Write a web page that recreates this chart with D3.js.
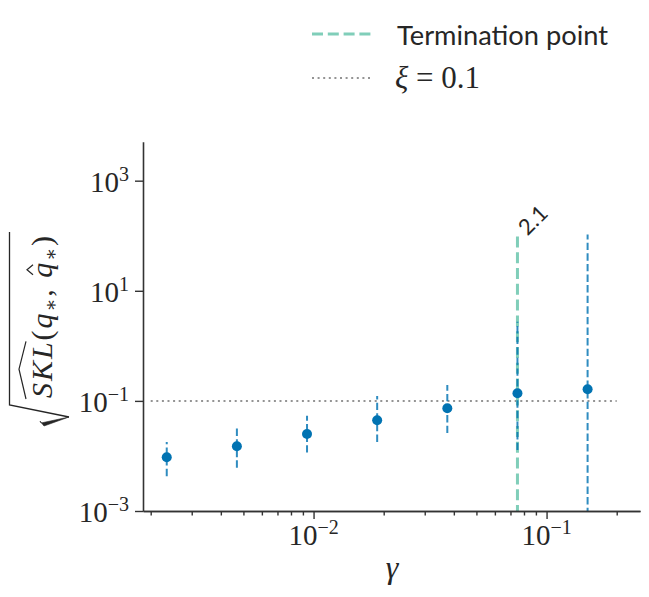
<!DOCTYPE html>
<html><head><meta charset="utf-8">
<script src="https://cdn.jsdelivr.net/npm/d3@7"></script>
<style>body{margin:0;background:#fff}svg{display:block}</style>
</head><body>
<svg id="c" width="649" height="597"></svg>
<script>
// ---- data ----
const gammas   = [0.00234375, 0.0046875, 0.009375, 0.01875, 0.0375, 0.075, 0.15];
const sklVals  = [0.0095, 0.015, 0.025, 0.0446, 0.0736, 0.138, 0.163];
const errLow   = [0.0043, 0.0061, 0.0115, 0.018, 0.026, 0.0128, 0.00001];
const errHigh  = [0.018, 0.0337, 0.054, 0.123, 0.195, 2.75, 105];
const terminationGamma = 0.075;
const terminationTop = 110;
const terminationLabel = "2.1";
const xiValue = 0.1;
const xiSpan = [0.002, 0.2];
const xMajorTicks = [0.01, 0.1];
const xMajorLabels = [["10","−2"],["10","−1"]];
const xMinorTicks = [0.002,0.003,0.004,0.005,0.006,0.007,0.008,0.009,
                     0.02,0.03,0.04,0.05,0.06,0.07,0.08,0.09,0.2];
const yTicks = [0.001, 0.1, 10, 1000];
const yTickLabels = [["10","−3"],["10","−1"],["10","1"],["10","3"]];
const xDomain = [Math.pow(10,-2.732), Math.pow(10,-0.599)];
const yDomain = [0.001, Math.pow(10,3.708)];

// ---- layout ----
const L = 143, R = 640, T = 141.7, B = 511;
const svg = d3.select("#c");
const x = d3.scaleLog().domain(xDomain).range([L, R]);
const y = d3.scaleLog().domain(yDomain).range([B, T]);
const blue = "#0173b2", green = "#80ceb9", grey = "#949494", ink = "#262626", spine = "#333333";
const serif = "'Liberation Serif','DejaVu Serif',serif";
const sans = "Lato,'Open Sans',sans-serif";

svg.append("clipPath").attr("id","clip").append("rect")
  .attr("x", L).attr("y", T).attr("width", R-L).attr("height", B-T);
const plot = svg.append("g").attr("clip-path","url(#clip)");

// xi line
plot.append("line")
  .attr("x1", x(xiSpan[0])).attr("x2", x(xiSpan[1]))
  .attr("y1", y(xiValue)).attr("y2", y(xiValue))
  .attr("stroke", grey).attr("stroke-width", 2).attr("stroke-dasharray","2,3.6");

// termination line
plot.append("line")
  .attr("x1", x(terminationGamma)).attr("x2", x(terminationGamma))
  .attr("y1", B + 5).attr("y2", y(terminationTop))
  .attr("stroke", green).attr("stroke-width", 3).attr("stroke-dasharray","11,4.8");

// error bars
plot.selectAll(".err").data(gammas).enter().append("line")
  .attr("x1", d => x(d)).attr("x2", d => x(d))
  .attr("y1", (d,i) => y(errLow[i])).attr("y2", (d,i) => y(errHigh[i]))
  .attr("stroke", blue).attr("stroke-opacity", 0.82).attr("stroke-width", 2)
  .attr("stroke-dasharray","7.4,3.2");

// points
plot.selectAll(".pt").data(gammas).enter().append("circle")
  .attr("cx", d => x(d)).attr("cy", (d,i) => y(sklVals[i])).attr("r", 5)
  .attr("fill", blue);

// termination label
svg.append("text")
  .attr("transform", `translate(${x(terminationGamma)+10},${y(terminationTop)+3}) rotate(-45)`)
  .attr("font-family", sans).attr("font-size", 22).attr("fill", ink)
  .text(terminationLabel);

// axes
const xAxisMajor = d3.axisBottom(x).tickValues(xMajorTicks).tickFormat("").tickSizeOuter(0).tickSizeInner(8);
const xAxisMinor = d3.axisBottom(x).tickValues(xMinorTicks).tickFormat("").tickSizeOuter(0).tickSizeInner(4.5);
const gxm = svg.append("g").attr("transform", `translate(0,${B})`).call(xAxisMinor);
const gx = svg.append("g").attr("transform", `translate(0,${B})`).call(xAxisMajor);
[gx, gxm].forEach(g => {
  g.select(".domain").attr("stroke", spine).attr("stroke-width", 1.6);
  g.selectAll(".tick line").attr("stroke", spine).attr("stroke-width", 1.4);
});
const yAxis = d3.axisLeft(y).tickValues(yTicks).tickFormat("").tickSizeOuter(0).tickSizeInner(8);
const gy = svg.append("g").attr("transform", `translate(${L},0)`).call(yAxis);
gy.select(".domain").attr("stroke", spine).attr("stroke-width", 1.6);
gy.selectAll(".tick line").attr("stroke", spine).attr("stroke-width", 1.4);

function powLabel(sel, base, exp) {
  sel.append("tspan").text(base);
  sel.append("tspan").attr("font-size", 20).attr("dy", -11).text(exp);
}
xMajorTicks.forEach((v,i) => {
  const t = svg.append("text").attr("x", x(v)).attr("y", B + 34)
    .attr("text-anchor","middle").attr("font-family", serif).attr("font-size", 29).attr("fill", ink);
  powLabel(t, xMajorLabels[i][0], xMajorLabels[i][1]);
});
yTicks.forEach((v,i) => {
  const t = svg.append("text").attr("x", L - 14).attr("y", y(v) + 11)
    .attr("text-anchor","end").attr("font-family", serif).attr("font-size", 29).attr("fill", ink);
  powLabel(t, yTickLabels[i][0], yTickLabels[i][1]);
});

// x label
svg.append("text").attr("x", 392).attr("y", 578).attr("text-anchor","middle")
  .attr("font-family", serif).attr("font-style","italic").attr("font-size", 32).attr("fill", ink)
  .text("γ");

// y label: sqrt( SKL-hat (q*, q-hat*) )
const yl = svg.append("g").attr("transform", "translate(52,398) rotate(-90)");
const ylt = yl.append("text").attr("x", 0).attr("y", 0)
  .attr("font-family", serif).attr("font-size", 30).attr("fill", ink);
ylt.append("tspan").attr("font-style","italic").text("SKL");
ylt.append("tspan").text("(");
ylt.append("tspan").attr("font-style","italic").text("q");
ylt.append("tspan").attr("font-size", 19).attr("dy", 5).text("∗");
ylt.append("tspan").attr("dy", -5).text(", ");
ylt.append("tspan").attr("font-style","italic").text("q");
ylt.append("tspan").attr("font-size", 19).attr("dy", 5).text("∗");
ylt.append("tspan").attr("dy", -5).text(")");
const node = ylt.node();
const nChars = node.getNumberOfChars();
const w0 = node.getComputedTextLength();
ylt.attr("letter-spacing", Math.max(0, (164 - w0) / nChars));
const sklW = node.getSubStringLength(0, 3);
// wide hat over SKL
yl.append("path")
  .attr("d", `M -1,-26 L ${sklW/2},-33 L ${sklW-1},-26`)
  .attr("fill","none").attr("stroke", ink).attr("stroke-width", 1.2);
// hat over second q
const idxQ2 = "SKL(q∗, ".length;
const q2x = node.getStartPositionOfChar(idxQ2).x;
yl.append("path")
  .attr("d", `M ${q2x+3},-19 L ${q2x+8},-25 L ${q2x+13},-19`)
  .attr("fill","none").attr("stroke", ink).attr("stroke-width", 1.2);
// radical
yl.append("path")
  .attr("d", `M -19,17 L -7,-42.5 L 166,-42.5`)
  .attr("fill","none").attr("stroke", ink).attr("stroke-width", 1.3);
yl.append("path")
  .attr("d", `M -23,-12 L -28,-8 L -19,17 L -25,-11 Z`).attr("fill", ink)
  .attr("stroke", ink).attr("stroke-width", 0.6).attr("stroke-linejoin","round");

// legend
const lg = svg.append("g");
lg.append("line").attr("x1", 312).attr("x2", 373).attr("y1", 34).attr("y2", 34)
  .attr("stroke", green).attr("stroke-width", 3).attr("stroke-dasharray","11,4.8");
const lt1 = lg.append("text").attr("x", 397).attr("y", 45)
  .attr("font-family", sans).attr("font-size", 29).attr("fill", ink).text("Termination point");
const w1 = lt1.node().getComputedTextLength();
lt1.attr("font-size", 29 * 211 / w1);
lg.append("line").attr("x1", 312).attr("x2", 373).attr("y1", 78).attr("y2", 78)
  .attr("stroke", grey).attr("stroke-width", 2).attr("stroke-dasharray","2,3.6");
const lt2 = lg.append("text").attr("x", 395).attr("y", 88)
  .attr("font-family", serif).attr("font-size", 31).attr("fill", ink);
lt2.append("tspan").attr("font-style","italic").text("ξ");
lt2.append("tspan").text(" = 0.1");
</script>
</body></html>
